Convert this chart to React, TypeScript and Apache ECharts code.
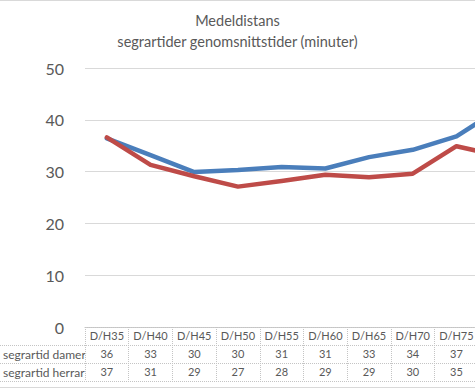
import React, { useEffect, useRef } from "react";
import * as echarts from "echarts";

const titleLines = ["Medeldistans", "segrartider genomsnittstider (minuter)"];
const categories = ["D/H35", "D/H40", "D/H45", "D/H50", "D/H55", "D/H60", "D/H65", "D/H70", "D/H75", "D/H80"];
const tableHeaders = ["D/H35", "D/H40", "D/H45", "D/H50", "D/H55", "D/H60", "D/H65", "D/H70", "D/H75"];
const seriesNames = ["segrartid damer", "segrartid herrar"];
const damer = [36.4, 33.2, 29.9, 30.3, 30.9, 30.6, 32.8, 34.2, 36.8, 42.2];
const herrar = [36.6, 31.3, 29.1, 27.1, 28.2, 29.4, 28.9, 29.6, 34.9, 33.0];
const damerTable = [36, 33, 30, 30, 31, 31, 33, 34, 37];
const herrarTable = [37, 31, 29, 27, 28, 29, 29, 30, 35];
const yMin = 0;
const yMax = 50;
const yInterval = 10;

const FONT = "Lato, 'Liberation Sans', sans-serif";
const TEXT = "#595959";
const BORDER = "#c4c4c4";

export default function App() {
  const ref = useRef<HTMLDivElement>(null);

  useEffect(() => {
    if (!ref.current) return;
    const chart = echarts.init(ref.current, undefined, { renderer: "svg" });
    const W = 560;
    const gridLeft = 85;
    const gridTop = 68;
    const axisY = 327;
    const rowH = 18;
    const band = 43.7;
    const gridRight = W - (gridLeft + band * categories.length);

    const tableAxis = (i: number, labels: (string | number)[]) => ({
      type: "category",
      data: categories,
      gridIndex: 0,
      position: "bottom",
      offset: i * rowH,
      boundaryGap: true,
      axisLine: { show: i === 0, lineStyle: { color: BORDER, type: "dotted", width: 1 } },
      axisTick: {
        show: true,
        length: rowH,
        alignWithLabel: false,
        interval: 0,
        lineStyle: { color: BORDER, type: "dotted", width: 1 },
      },
      axisLabel: {
        show: true,
        interval: 0,
        margin: 3,
        fontSize: 11,
        fontFamily: FONT,
        color: TEXT,
        formatter: (_v: string, idx: number) => (labels[idx] === undefined ? "" : String(labels[idx])),
      },
      splitLine: { show: false },
    });

    const hLines = [1, 2, 3].map((k) => ({
      type: "line",
      shape: { x1: 0, y1: axisY + k * rowH + 0.5, x2: W, y2: axisY + k * rowH + 0.5 },
      style: { stroke: BORDER, lineWidth: 1, lineDash: [1, 1] },
      silent: true,
    }));

    const rowLabels = seriesNames.map((name, k) => ({
      type: "text",
      x: 3,
      y: axisY + (k + 1) * rowH + rowH / 2,
      style: {
        text: name,
        fontSize: 12,
        fontFamily: FONT,
        fill: TEXT,
        verticalAlign: "middle",
        align: "left",
      },
      silent: true,
    }));

    chart.setOption({
      animation: false,
      backgroundColor: "#ffffff",
      grid: { left: gridLeft, top: gridTop, right: gridRight, bottom: 390 - axisY, containLabel: false },
      xAxis: [
        tableAxis(0, tableHeaders),
        tableAxis(1, damerTable),
        tableAxis(2, herrarTable),
      ],
      yAxis: {
        type: "value",
        min: yMin,
        max: yMax,
        interval: yInterval,
        axisLine: { show: false },
        axisTick: { show: false },
        axisLabel: { fontSize: 16, fontFamily: FONT, color: TEXT, margin: 21 },
        splitLine: { lineStyle: { color: "#d9d9d9", width: 1 } },
      },
      series: [
        {
          name: seriesNames[0],
          type: "line",
          data: damer,
          symbol: "none",
          lineStyle: { color: "#4A7EBB", width: 4.5, cap: "round", join: "round" },
          itemStyle: { color: "#4A7EBB" },
        },
        {
          name: seriesNames[1],
          type: "line",
          data: herrar,
          symbol: "none",
          lineStyle: { color: "#BE4B48", width: 4.5, cap: "round", join: "round" },
          itemStyle: { color: "#BE4B48" },
        },
      ],
      graphic: [
        {
          type: "rect",
          shape: { x: -10, y: 0.5, width: W + 20, height: 387 },
          style: { fill: "none", stroke: "#d9d9d9", lineWidth: 1 },
          silent: true,
        },
        {
          type: "text",
          x: 237.5,
          y: 31,
          style: {
            text: titleLines.join("\n"),
            fontSize: 14.5,
            lineHeight: 21,
            fontFamily: FONT,
            fill: TEXT,
            align: "center",
            verticalAlign: "middle",
          },
          silent: true,
        },
        ...hLines,
        ...rowLabels,
      ],
    });
    return () => chart.dispose();
  }, []);

  return (
    <div
      style={{
        position: "fixed",
        left: 0,
        top: 0,
        width: 475,
        height: 390,
        overflow: "hidden",
        background: "#fff",
      }}
    >
      <div ref={ref} style={{ width: 560, height: 390 }} />
    </div>
  );
}
